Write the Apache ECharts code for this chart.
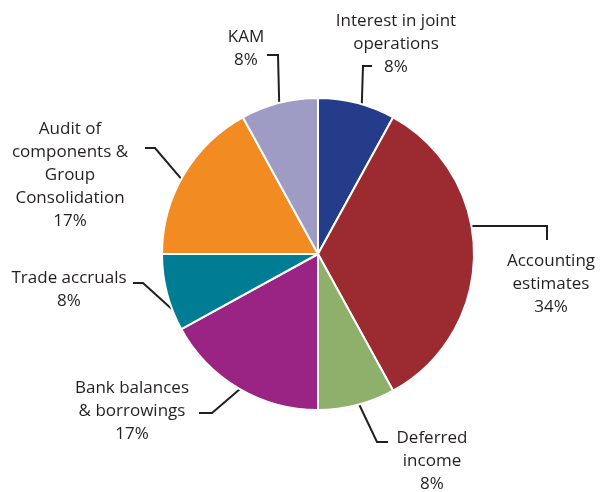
<!DOCTYPE html>
<html>
<head>
<meta charset="utf-8">
<style>
  html, body { margin: 0; padding: 0; background: #ffffff; }
  #chart { width: 608px; height: 492px; }
</style>
<script src="https://cdn.jsdelivr.net/npm/echarts@6/dist/echarts.min.js"></script>
</head>
<body>
<div id="chart"></div>
<script>
// Share of audit effort by area (clockwise from 12 o'clock)
const categories = [
  'Interest in joint\noperations',
  'Accounting\nestimates',
  'Deferred\nincome',
  'Bank balances\n& borrowings',
  'Trade accruals',
  'Audit of\ncomponents &\nGroup\nConsolidation',
  'KAM'
];
const shares = [8, 34, 8, 17, 8, 17, 8];

const palette = ['#253c8b', '#9c2a31', '#8fb06b', '#9a2484', '#007c93', '#f28b22', '#9e9bc5'];

// Pie geometry
const CX = 318, CY = 254, R = 156;

// Leader-line routing per slice: start angle on the rim (degrees clockwise
// from 12 o'clock), elbow and end offsets from the pie centre, label centre offset.
const leaders = [
  { a: 16.3,  elbow: [45, -188],   end: [54, -188],   label: [78, -210] },
  { a: 79.7,  elbow: [229, -28],   end: [229, -14],   label: [233, 30] },
  { a: 164.7, elbow: [59, 188],    end: [70, 188],    label: [114, 207] },
  { a: 210.0, elbow: [-106, 159],  end: [-119, 159],  label: [-186, 157] },
  { a: 249.3, elbow: [-175, 29],   end: [-185, 29],   label: [-249, 36] },
  { a: 298.8, elbow: [-163, -106], end: [-173, -106], label: [-248, -79] },
  { a: 345.6, elbow: [-40, -199],  end: [-51, -199],  label: [-72, -205] }
];

const chart = echarts.init(document.getElementById('chart'), null, { renderer: 'canvas' });

chart.setOption({
  backgroundColor: '#ffffff',
  animation: false,
  series: [{
    type: 'pie',
    center: [CX, CY],
    radius: [0, R],
    startAngle: 90,
    clockwise: true,
    color: palette,
    itemStyle: { borderColor: '#ffffff', borderWidth: 2 },
    label: {
      show: true,
      position: 'outside',
      overflow: 'none',
      formatter: p => p.name + '\n' + Math.round(p.percent) + '%',
      fontFamily: '"Open Sans", "Noto Sans", sans-serif',
      fontSize: 17,
      lineHeight: 23,
      color: '#231f20',
      align: 'center'
    },
    labelLine: {
      show: true,
      lineStyle: { color: '#231f20', width: 2 }
    },
    labelLayout: function (params) {
      const L = leaders[params.dataIndex];
      const rad = L.a * Math.PI / 180;
      const start = [CX + R * Math.sin(rad), CY - R * Math.cos(rad)];
      return {
        x: CX + L.label[0],
        y: CY + L.label[1],
        align: 'center',
        verticalAlign: 'middle',
        labelLinePoints: [
          start,
          [CX + L.elbow[0], CY + L.elbow[1]],
          [CX + L.end[0], CY + L.end[1]]
        ]
      };
    },
    data: categories.map((name, i) => ({ name: name, value: shares[i] }))
  }]
});
</script>
</body>
</html>
